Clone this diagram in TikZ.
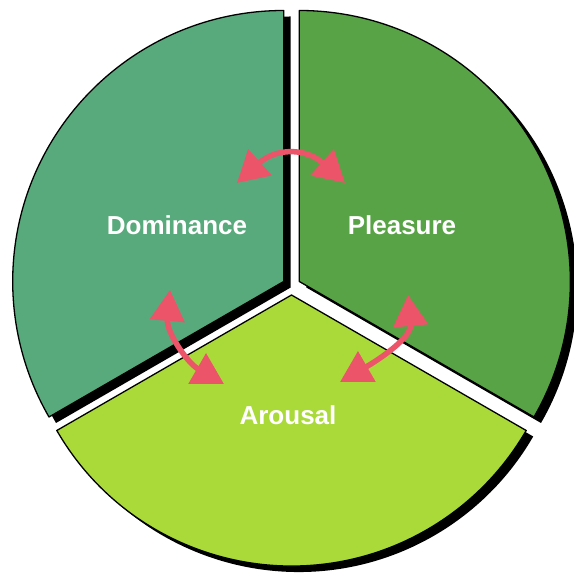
\documentclass[tikz,border=0pt]{standalone}
\usepackage{fontspec}
\setmainfont{Liberation Sans}
\usepackage{tikz}
\usetikzlibrary{arrows.meta}
\definecolor{domGreen}{RGB}{88,170,124}
\definecolor{pleGreen}{RGB}{88,163,70}
\definecolor{aroGreen}{RGB}{170,218,58}
\definecolor{arrPink}{RGB}{236,84,106}

\begin{document}
\begin{tikzpicture}[x=1pt,y=1pt,
                  sec/.style={draw=black,line width=1.3pt,line join=round},
                  lbl/.style={text=white,font=\fontsize{26}{30}\selectfont\bfseries},
                  arr/.style={{Triangle[length=31pt,width=34pt]}-{Triangle[length=31pt,width=34pt]},line width=5.5pt,draw=arrPink}
                ]
                \useasboundingbox (0,0) rectangle (573,578);
                % shadows of the three sectors
                \foreach \ax/\ay/\a in {283.7/296.5/90, 299.3/296.5/-30, 291.5/283/210}
                  \fill[black] (\ax+7,\ay-6) -- ++(\a:271) arc[start angle=\a,end angle=\a+120,radius=271pt] -- cycle;
                % sectors
                \filldraw[sec,fill=domGreen] (283.7,296.5) -- ++(90:271) arc[start angle=90,end angle=210,radius=271pt] -- cycle;
                \filldraw[sec,fill=pleGreen] (299.3,296.5) -- ++(-30:271) arc[start angle=-30,end angle=90,radius=271pt] -- cycle;
                \filldraw[sec,fill=aroGreen] (291.5,283) -- ++(210:271) arc[start angle=210,end angle=330,radius=271pt] -- cycle;

                \node[lbl] (dom) at (177,353) {Dominance};
                \node[lbl] (ple) at (402,353) {Pleasure};
                \node[lbl] (aro) at (288,163) {Arousal};

                \coordinate (t1) at (237,395);
                \coordinate (t2) at (345,395);
                \coordinate (l1) at (170,288);
                \coordinate (l2) at (224,194);
                \coordinate (r1) at (408,283);
                \coordinate (r2) at (340,196);
                \draw[arr] (t1) to[out=42,in=138,looseness=1.25] (t2);
                \draw[arr] (l1) to[out=-95,in=150] (l2);
                \draw[arr] (r1) to[out=-85,in=30] (r2);
                \end{tikzpicture}
\end{document}
